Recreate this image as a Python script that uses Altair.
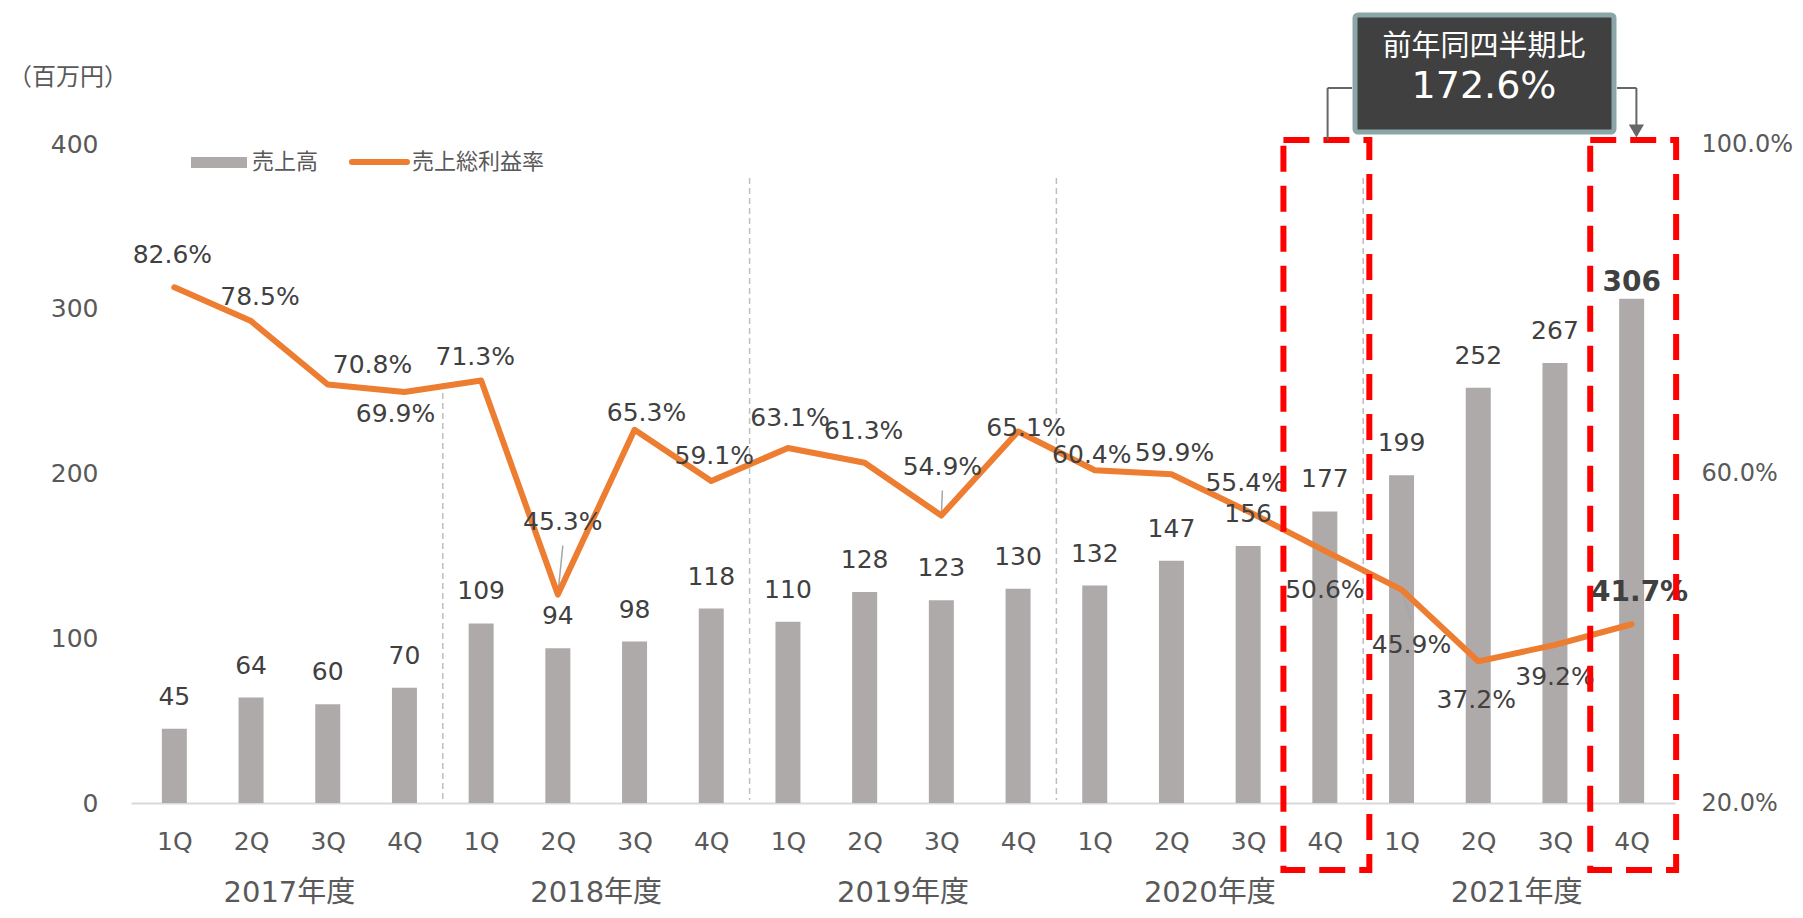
import json
import pandas as pd
import altair as alt

# ---------------- data ----------------
YEARS = ["2017年度", "2018年度", "2019年度", "2020年度", "2021年度"]
QUARTERS = ["1Q", "2Q", "3Q", "4Q"]
SALES = [45, 64, 60, 70, 109, 94, 98, 118, 110, 128, 123, 130,
         132, 147, 156, 177, 199, 252, 267, 306]
GPM = [82.6, 78.5, 70.8, 69.9, 71.3, 45.3, 65.3, 59.1, 63.1, 61.3,
       54.9, 65.1, 60.4, 59.9, 55.4, 50.6, 45.9, 37.2, 39.2, 41.7]
UNIT = "（百万円）"
LEGEND_BAR = "売上高"
LEGEND_LINE = "売上総利益率"
CALLOUT_TITLE = "前年同四半期比"
CALLOUT_VALUE = "172.6%"
HIGHLIGHT = [15, 19]          # compared quarters (2020 4Q vs 2021 4Q)
BOLD_LAST = 19                # emphasised point

# label placement (pixel offsets from the point)
GPM_LABEL_DX = [-2, 9, 45, -9, -6, 5, 12, 3, 2, -1, 1, 8, -3, 3, -3, 0, 10, -2, 0, 8]
GPM_LABEL_DY = [-32, -24, -20, 22, -23, -73, -17, -25, -30, -32, -49, -3, -15, -21, -28, 39, 55, 39, 32, -31]
LEADERS = [5, 10, 16]

# ---------------- geometry / style ----------------
PL, PT = 131, 144            # plot origin in page coordinates
W, H = 1544, 659
N = len(SALES)
PX_X = W / N                 # pixels per category
PX_P = H / 80.0              # pixels per percentage point
FONT = "DejaVu Sans, Noto Sans CJK JP"
TXT = "#404040"
AXC = "#595959"
BAR = "#aeaaaa"
ORANGE = "#ed7d31"

def fx(X):
    return X - PL

def fy(Y):
    return Y - PT

rows = []
for i in range(N):
    rows.append(dict(
        idx=i, q=QUARTERS[i % 4], year=YEARS[i // 4],
        sales=SALES[i], gpm=GPM[i],
        bold=(i == BOLD_LAST),
        slab=str(SALES[i]), glab=f"{GPM[i]:.1f}%",
        xl=i + GPM_LABEL_DX[i] / PX_X,
        yl=GPM[i] - GPM_LABEL_DY[i] / PX_P,
    ))
df = pd.DataFrame(rows)

lead = []
for i in LEADERS:
    dy = GPM_LABEL_DY[i]
    end = dy - (24 if dy > 0 else -24)
    lead.append(dict(x=i, x2=i + GPM_LABEL_DX[i] / PX_X, y=GPM[i], y2=GPM[i] - end / PX_P))
lead = pd.DataFrame(lead)

hl = pd.DataFrame([dict(x=i - 0.54, x2=i + 0.58) for i in HIGHLIGHT])

xs = alt.Scale(domain=[-0.5, N - 0.5], nice=False, zero=False)
ys = alt.Scale(domain=[0, 400], nice=False, zero=True)
ps = alt.Scale(domain=[20, 100], nice=False, zero=False)

x_axis = alt.Axis(
    values=list(range(N)),
    labelExpr=f"{json.dumps(QUARTERS)}[datum.value % 4]",
    title="", ticks=False, grid=False, domainColor="#d9d9d9", domainWidth=2,
    labelFont=FONT, labelFontSize=25, labelColor=AXC, labelPadding=26,
    labelFlush=False, labelOverlap=False, orient="bottom",
)
y_axis = alt.Axis(
    values=[0, 100, 200, 300, 400], title="", ticks=False, domain=False, grid=False,
    labelFont=FONT, labelFontSize=25, labelColor=AXC, labelPadding=33, orient="left",
)
p_axis = alt.Axis(
    values=[20, 60, 100], title="", ticks=False, domain=False, grid=False,
    labelExpr="format(datum.value, '.1f') + '%'",
    labelFont=FONT, labelFontSize=24, labelColor=AXC, labelPadding=26,
    orient="right", labelAlign="left",
)


def X(field):
    return alt.X(field, scale=xs, axis=x_axis)


base = alt.Chart(df)

# year separators
sep_first = base.transform_filter("datum.q == '4Q' && datum.idx == 3").transform_calculate(
    sx="datum.idx + 0.5").mark_rule(color="#bfbfbf", strokeWidth=1.5, strokeDash=[6, 4]).encode(
    x=X("sx:Q"), y=alt.value(fy(383)), y2=alt.value(H - 3))
sep_rest = base.transform_filter(f"datum.q == '4Q' && datum.idx > 3 && datum.idx < {N - 1}").transform_calculate(
    sx="datum.idx + 0.5").mark_rule(color="#bfbfbf", strokeWidth=1.5, strokeDash=[6, 4]).encode(
    x=X("sx:Q"), y=alt.value(fy(178)), y2=alt.value(H - 3))

bars = base.mark_bar(size=25, color=BAR).encode(
    x=X("idx:Q"),
    y=alt.Y("sales:Q", scale=ys, axis=y_axis),
)
bar_lab = base.transform_filter("!datum.bold").mark_text(
    font=FONT, fontSize=25, color=TXT, dy=-32, baseline="middle").encode(
    x=X("idx:Q"),
    y=alt.Y("sales:Q", scale=ys, axis=None), text="slab:N")
bar_lab_b = base.transform_filter("datum.bold").mark_text(
    font=FONT, fontSize=28, fontWeight="bold", color=TXT, dy=-16, baseline="middle").encode(
    x=X("idx:Q"),
    y=alt.Y("sales:Q", scale=ys, axis=None), text="slab:N")

leaders = alt.Chart(lead).mark_rule(color="#a6a6a6", strokeWidth=1.5).encode(
    x=X("x:Q"), x2="x2:Q",
    y=alt.Y("y:Q", scale=ps, axis=None), y2="y2:Q")

line = base.mark_line(color=ORANGE, strokeWidth=6, strokeJoin="round", strokeCap="round").encode(
    x=X("idx:Q"),
    y=alt.Y("gpm:Q", scale=ps, axis=p_axis),
)
line_lab = base.transform_filter("!datum.bold").mark_text(
    font=FONT, fontSize=25, color=TXT, baseline="middle").encode(
    x=X("xl:Q"),
    y=alt.Y("yl:Q", scale=ps, axis=None), text="glab:N")
line_lab_b = base.transform_filter("datum.bold").mark_text(
    font=FONT, fontSize=28, fontWeight="bold", color=TXT, baseline="middle").encode(
    x=X("xl:Q"),
    y=alt.Y("yl:Q", scale=ps, axis=None), text="glab:N")

years = base.transform_aggregate(c="mean(idx)", groupby=["year"]).mark_text(
    font=FONT, fontSize=29, color=AXC, baseline="middle").encode(
    x=X("c:Q"), y=alt.value(fy(893)), text="year:N")

# highlight boxes
boxes = alt.Chart(hl).mark_rect(fillOpacity=0, stroke="#ff0000", strokeWidth=6,
                                strokeDash=[26, 14]).encode(
    x=X("x:Q"), x2="x2:Q",
    y=alt.value(fy(140)), y2=alt.value(fy(870)))

# unit label
unit = alt.Chart(pd.DataFrame({"t": [UNIT]})).mark_text(
    font=FONT, fontSize=24, color=AXC, align="left", baseline="middle").encode(
    x=alt.value(fx(8)), y=alt.value(fy(78)), text="t:N")

# legend
leg_rect = alt.Chart(pd.DataFrame({"k": [0]})).mark_rect(color=BAR).encode(
    x=alt.value(fx(191)), x2=alt.value(fx(247)), y=alt.value(fy(157)), y2=alt.value(fy(168)))
leg_t1 = alt.Chart(pd.DataFrame({"t": [LEGEND_BAR]})).mark_text(
    font=FONT, fontSize=22, color=AXC, align="left", baseline="middle").encode(
    x=alt.value(fx(252)), y=alt.value(fy(162)), text="t:N")
leg_line = alt.Chart(pd.DataFrame({"k": [0]})).mark_rule(color=ORANGE, strokeWidth=6, strokeCap="round").encode(
    x=alt.value(fx(352)), x2=alt.value(fx(407)), y=alt.value(fy(162)))
leg_t2 = alt.Chart(pd.DataFrame({"t": [LEGEND_LINE]})).mark_text(
    font=FONT, fontSize=22, color=AXC, align="left", baseline="middle").encode(
    x=alt.value(fx(412)), y=alt.value(fy(162)), text="t:N")

# callout
cx1 = (HIGHLIGHT[0] + 0.5) * PX_X
cx2 = (HIGHLIGHT[1] + 0.5) * PX_X
callout = alt.Chart(pd.DataFrame({"k": [0]})).mark_rect(
    fill="#404040", stroke="#8aa6a7", strokeWidth=5, cornerRadius=3).encode(
    x=alt.value(fx(1355)), x2=alt.value(fx(1614)), y=alt.value(fy(15)), y2=alt.value(fy(132)))
c_t1 = alt.Chart(pd.DataFrame({"t": [CALLOUT_TITLE]})).mark_text(
    font=FONT, fontSize=29, color="white", baseline="middle").encode(
    x=alt.value(fx(1484)), y=alt.value(fy(47)), text="t:N")
c_t2 = alt.Chart(pd.DataFrame({"t": [CALLOUT_VALUE]})).mark_text(
    font=FONT, fontSize=38, color="white", baseline="middle").encode(
    x=alt.value(fx(1484)), y=alt.value(fy(87)), text="t:N")

CONN = "#666666"
c_l1 = alt.Chart(pd.DataFrame({"k": [0]})).mark_rule(color=CONN, strokeWidth=2).encode(
    x=alt.value(cx1), x2=alt.value(fx(1352)), y=alt.value(fy(88)))
c_l2 = alt.Chart(pd.DataFrame({"k": [0]})).mark_rule(color=CONN, strokeWidth=2).encode(
    x=alt.value(cx1), y=alt.value(fy(88)), y2=alt.value(fy(140)))
c_r1 = alt.Chart(pd.DataFrame({"k": [0]})).mark_rule(color=CONN, strokeWidth=2).encode(
    x=alt.value(fx(1617)), x2=alt.value(cx2), y=alt.value(fy(88)))
c_r2 = alt.Chart(pd.DataFrame({"k": [0]})).mark_rule(color=CONN, strokeWidth=2).encode(
    x=alt.value(cx2), y=alt.value(fy(88)), y2=alt.value(fy(126)))
c_arrow = alt.Chart(pd.DataFrame({"k": [0]})).mark_point(
    shape="triangle-down", filled=True, color=CONN, size=230, opacity=1).encode(
    x=alt.value(cx2), y=alt.value(fy(131)))

chart = alt.layer(
    sep_first, sep_rest, bars, leaders, line, bar_lab, bar_lab_b, line_lab, line_lab_b,
    years, boxes, unit, leg_rect, leg_t1, leg_line, leg_t2,
    c_l1, c_l2, c_r1, c_r2, c_arrow, callout, c_t1, c_t2,
).resolve_scale(y="independent").properties(
    width=W, height=H,
    autosize=alt.AutoSizeParams(type="none"),
    padding={"left": PL - 8, "top": PT - 8, "right": 1787 - (PL - 8) - W, "bottom": 902 - (PT - 8) - H},
).configure_view(strokeWidth=0).configure_axis(grid=False)

chart.save("out.html", embed_options={"renderer": "svg", "actions": False})
